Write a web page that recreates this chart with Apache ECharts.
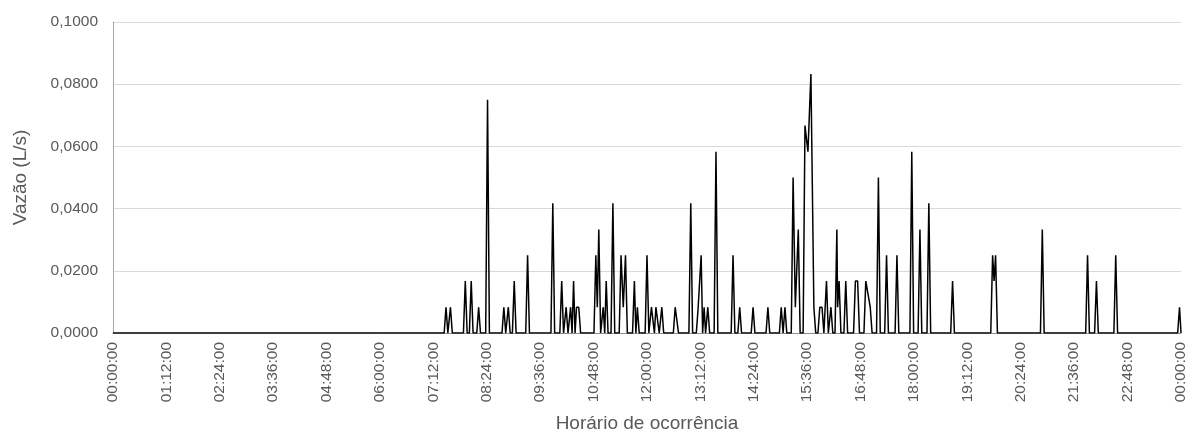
<!DOCTYPE html>
<html>
<head>
<meta charset="utf-8">
<title>Vazão ao longo do dia</title>
<script src="https://cdn.jsdelivr.net/npm/echarts@6/dist/echarts.min.js"></script>
<style>
  html, body { margin: 0; padding: 0; background: #ffffff; overflow: hidden; }
  #chart { width: 1190px; height: 433px; }
</style>
</head>
<body>
<div id="chart"></div>
<script>
// Flow readings (L/s) by time of day; every instant not listed reads zero.
const readingTimes = [
  '00:00', '07:29', '07:35', '07:55', '08:03', '08:13', '08:25', '08:47', '08:53', '09:01',
  '09:19', '09:53', '10:05', '10:11', '10:17', '10:19', '10:21', '10:23', '10:25', '10:28',
  '10:51', '10:53', '10:55', '11:01', '11:03', '11:05', '11:14', '11:25', '11:28', '11:31',
  '11:43', '11:45', '11:47', '12:00', '12:06', '12:08', '12:10', '12:12', '12:14', '12:20',
  '12:38', '12:40', '12:59', '13:09', '13:11', '13:13', '13:15', '13:17', '13:19', '13:22',
  '13:33', '13:56', '14:05', '14:23', '14:43', '15:01', '15:06', '15:17', '15:20', '15:24',
  '15:33', '15:37', '15:41', '15:45', '15:53', '15:56', '16:02', '16:08', '16:16', '16:17',
  '16:19', '16:28', '16:41', '16:44', '16:55', '16:57', '17:01', '17:12', '17:23', '17:37',
  '17:57', '18:08', '18:20', '18:52', '19:46', '19:48', '19:50', '20:53', '21:54', '22:06',
  '22:32', '23:58', '24:00'
];
const readingFlows = [
  0, 0.0083, 0.0083, 0.0167, 0.0167, 0.0083, 0.0750, 0.0083, 0.0083, 0.0167,
  0.0250, 0.0417, 0.0167, 0.0083, 0.0083, 0, 0.0167, 0, 0.0083, 0.0083,
  0.0250, 0.0083, 0.0333, 0.0083, 0, 0.0167, 0.0417, 0.0250, 0.0083, 0.0250,
  0.0167, 0, 0.0083, 0.0250, 0.0083, 0.0083, 0, 0.0083, 0.0083, 0.0083,
  0.0083, 0.0083, 0.0417, 0.0083, 0.0083, 0.0250, 0, 0.0083, 0, 0.0083,
  0.0583, 0.0250, 0.0083, 0.0083, 0.0083, 0.0083, 0.0083, 0.0500, 0.0083, 0.0333,
  0.0667, 0.0583, 0.0833, 0.0083, 0.0083, 0.0083, 0.0167, 0.0083, 0.0333, 0.0083,
  0.0167, 0.0167, 0.0167, 0.0167, 0.0167, 0.0167, 0.0083, 0.0500, 0.0250, 0.0250,
  0.0583, 0.0333, 0.0417, 0.0167, 0.0250, 0.0167, 0.0250, 0.0333, 0.0250, 0.0167,
  0.0250, 0.0083, 0
];

// Axis ticks: one every 72 minutes across the day; flow from 0 to 0.1 L/s.
const dayMinutes = 1440;
const timeStep = 72;
const flowMax = 0.1;
const flowStep = 0.02;

// Half of the sampling step (minutes): a pulse rises from and falls back to zero within it.
const halfStep = 2.5;

function toMinutes(hhmm) {
  const [h, m] = hhmm.split(':').map(Number);
  return h * 60 + m;
}

function clockLabel(min) {
  const m = Math.round(min) % dayMinutes;
  const h = Math.floor(m / 60);
  const mm = m % 60;
  return String(h).padStart(2, '0') + ':' + String(mm).padStart(2, '0') + ':00';
}

// Needs a zero reading between a pulse at t and a neighbour dt minutes away?
function needsZero(dt, neighbourFlow) {
  return neighbourFlow > 0 ? dt >= 2 * halfStep : dt > halfStep;
}

// Build the series: readings, with zero readings on either side of each pulse.
const seriesData = [];
const n = readingTimes.length;
for (let i = 0; i < n; i++) {
  const t = toMinutes(readingTimes[i]);
  const v = readingFlows[i];
  if (v > 0 && i > 0) {
    const dt = t - toMinutes(readingTimes[i - 1]);
    if (needsZero(dt, readingFlows[i - 1])) seriesData.push([t - halfStep, 0]);
  }
  seriesData.push([t, v]);
  if (v > 0 && i < n - 1) {
    const dt = toMinutes(readingTimes[i + 1]) - t;
    if (needsZero(dt, readingFlows[i + 1])) seriesData.push([t + halfStep, 0]);
  }
}

const textColor = '#595959';
const fontFamily = '"Liberation Sans", Arial, sans-serif';

const chart = echarts.init(document.getElementById('chart'), null, { renderer: 'canvas' });
chart.setOption({
  animation: false,
  backgroundColor: '#ffffff',
  grid: {
    left: 113, right: 9, top: 22, bottom: 100,
    containLabel: false,
    outerBoundsMode: 'none'
  },
  xAxis: {
    type: 'value',
    min: 0,
    max: dayMinutes,
    interval: timeStep,
    name: 'Horário de ocorrência',
    nameLocation: 'middle',
    nameGap: 81,
    nameTextStyle: { color: textColor, fontSize: 19, fontFamily: fontFamily },
    axisLine: { show: true, onZero: false, lineStyle: { color: '#8c8c8c', width: 1 } },
    axisTick: { show: false },
    splitLine: { show: false },
    axisLabel: {
      rotate: 90,
      margin: 9,
      color: textColor,
      fontSize: 15.5,
      fontFamily: fontFamily,
      showMinLabel: true,
      showMaxLabel: true,
      formatter: clockLabel
    }
  },
  yAxis: {
    type: 'value',
    min: 0,
    max: flowMax,
    interval: flowStep,
    name: 'Vazão (L/s)',
    nameLocation: 'middle',
    nameRotate: 90,
    nameGap: 83,
    nameTextStyle: { color: textColor, fontSize: 19, fontFamily: fontFamily },
    axisLine: { show: true, lineStyle: { color: '#a6a6a6', width: 1 } },
    axisTick: { show: false },
    splitLine: { show: true, lineStyle: { color: '#d9d9d9', width: 1 } },
    axisLabel: {
      margin: 15,
      color: textColor,
      fontSize: 15.5,
      fontFamily: fontFamily,
      formatter: v => v.toFixed(4).replace('.', ',')
    }
  },
  series: [{
    type: 'line',
    data: seriesData,
    showSymbol: false,
    symbol: 'none',
    clip: true,
    lineStyle: { color: '#000000', width: 1.5 },
    emphasis: { disabled: true }
  }]
});
</script>
</body>
</html>
